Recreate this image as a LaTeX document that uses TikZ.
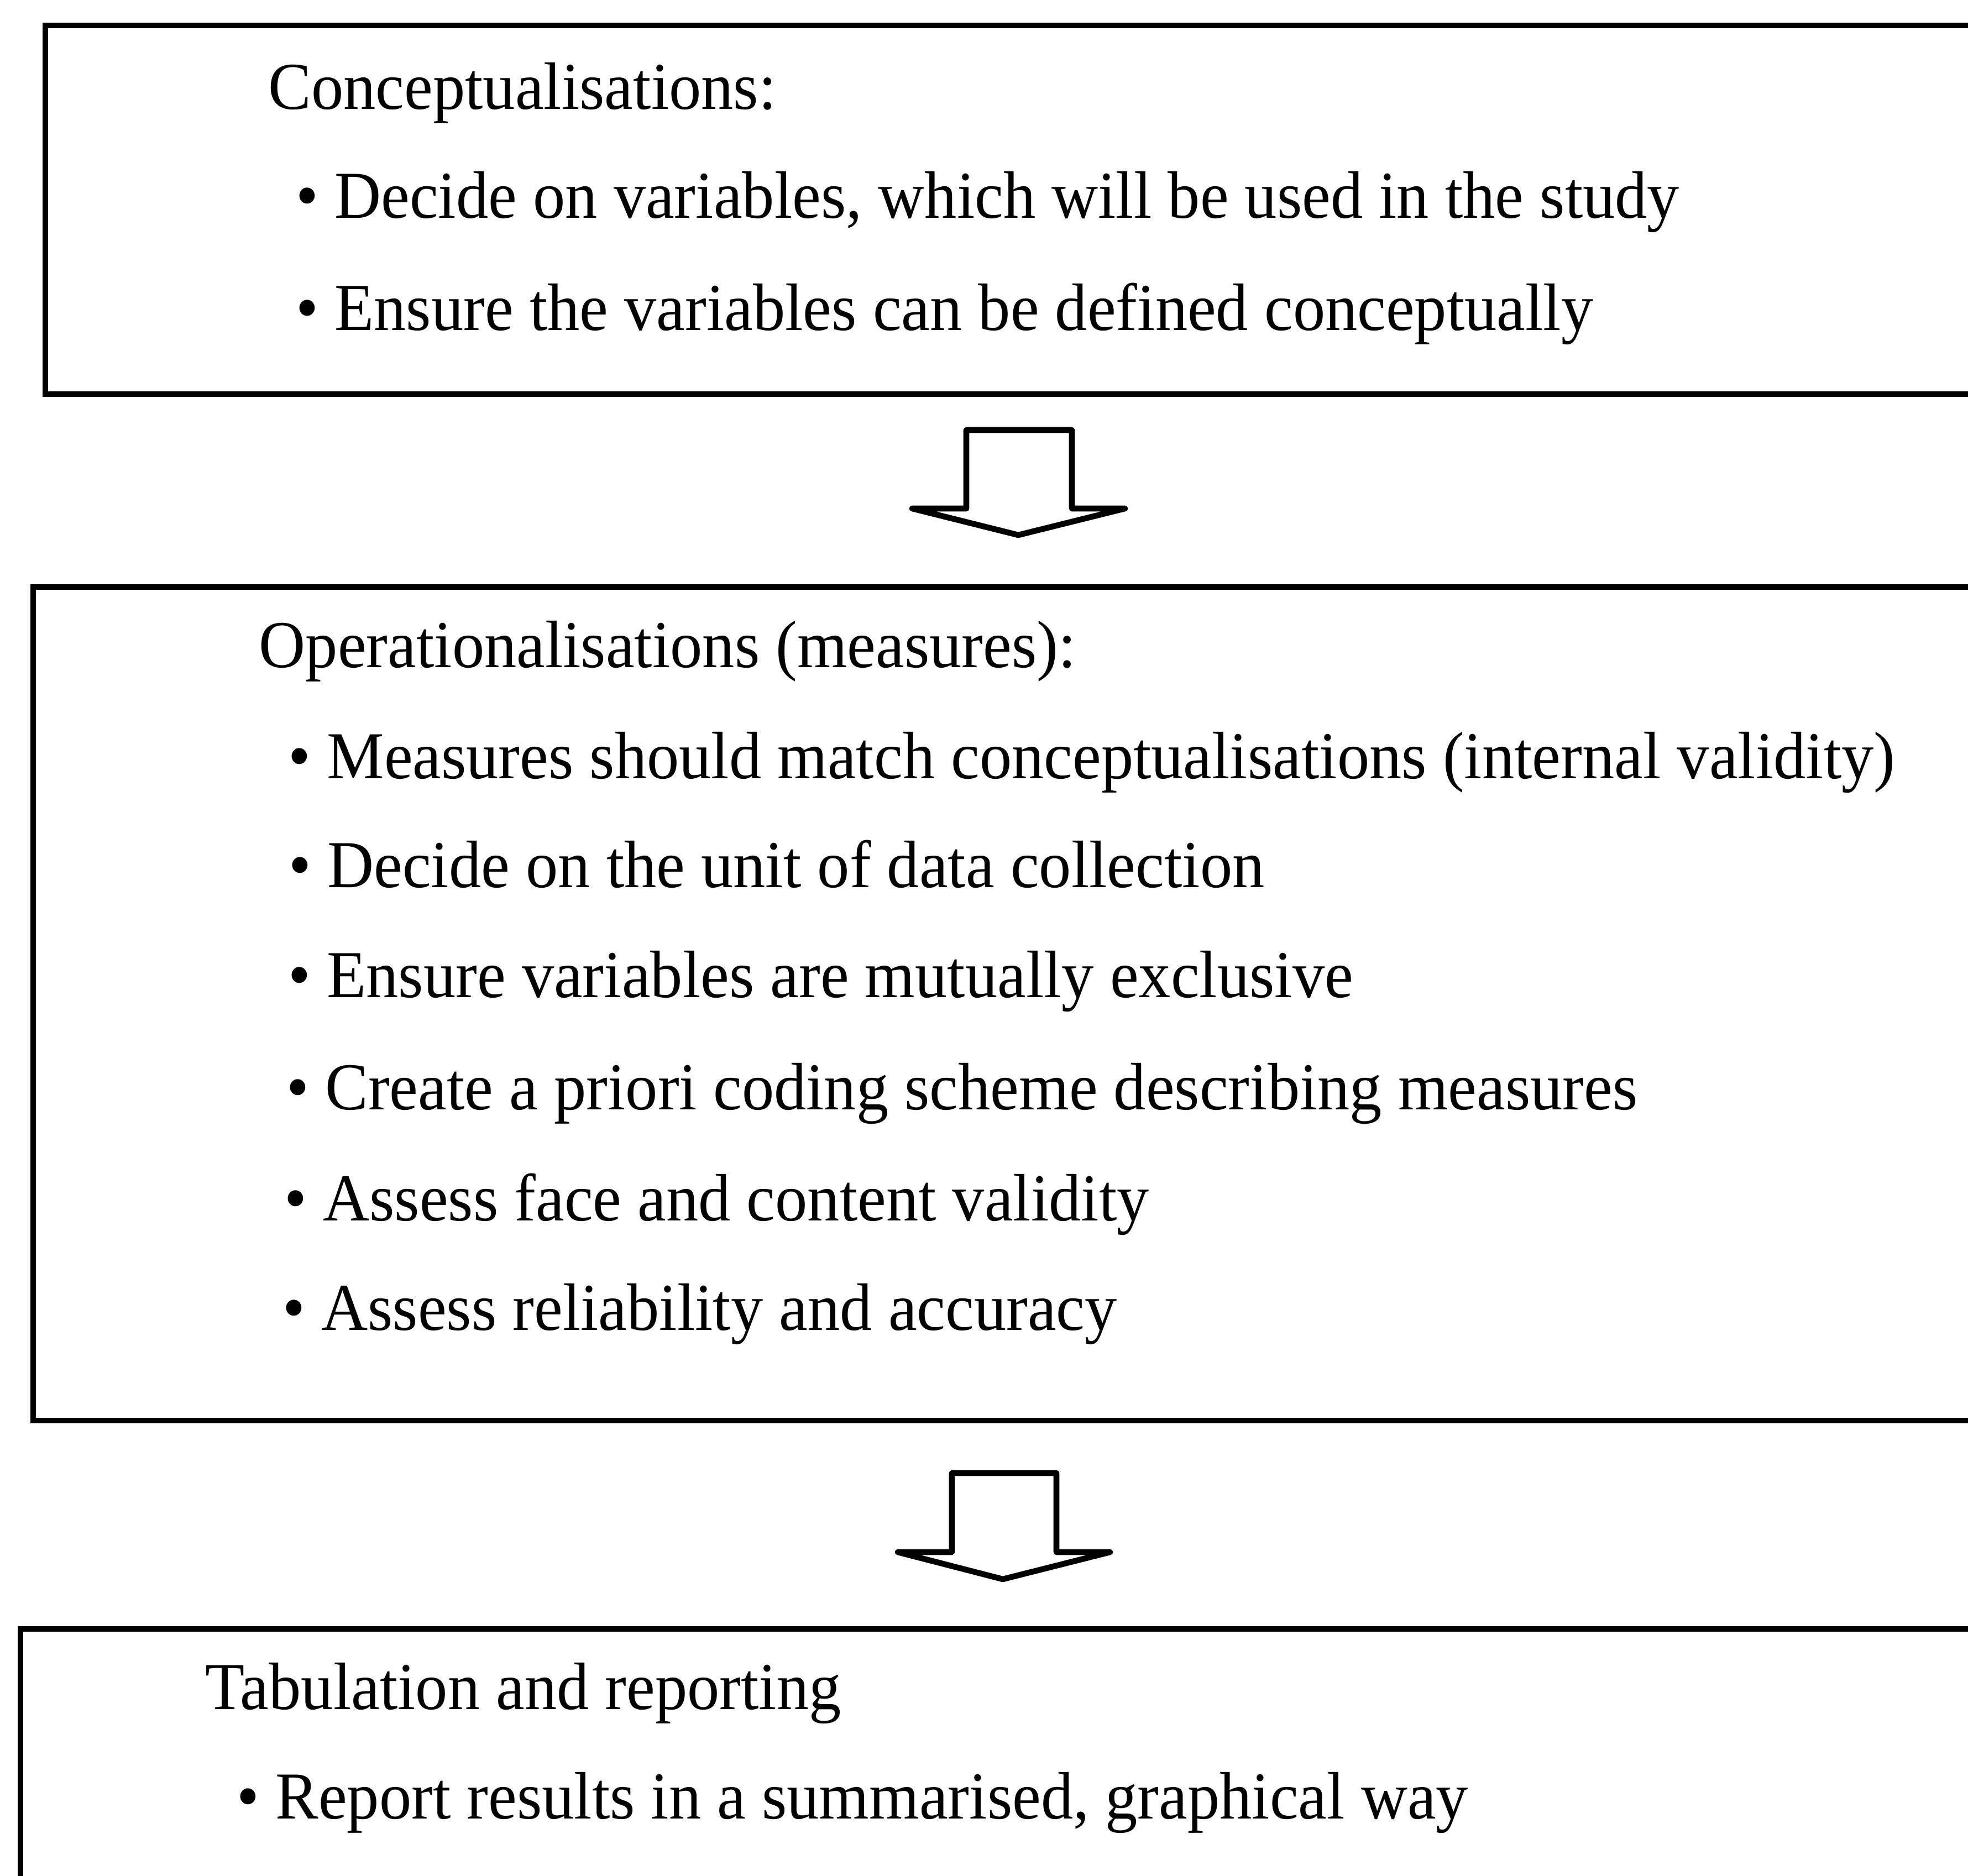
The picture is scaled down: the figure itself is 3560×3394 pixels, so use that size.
\documentclass[tikz,border=0pt]{standalone}
\usepackage{fontspec}
\setmainfont[FakeStretch=0.96]{Liberation Serif}
\tikzset{
  boxline/.style={line width=2.8pt},
  blockarrow/.style={line width=3pt, line join=round},
  txt/.style={anchor=base west, inner sep=0pt, font=\fontsize{34.5}{41}\selectfont},
}
\begin{document}
\begin{tikzpicture}[x=0.01cm,y=-0.01cm]
\useasboundingbox (0,0) rectangle (3560,3394);
\clip (0,0) rectangle (3560,3394);
% boxes, open to the right
\draw[boxline] (3700,46) -- (82,46) -- (82,713) -- (3700,713);
\draw[boxline] (3700,1062) -- (60,1062) -- (60,2570) -- (3700,2570);
\draw[boxline] (3700,2947) -- (37,2947) -- (37,3500);
% block arrows
\draw[blockarrow] (1748,920) -- (1748,778) -- (1939,778) -- (1939,920) -- (2035,920) -- (1842,968) -- (1650,920) -- cycle;
\draw[blockarrow] (1722,2808) -- (1722,2665) -- (1911,2665) -- (1911,2808) -- (2008,2808) -- (1814,2857) -- (1624,2808) -- cycle;
% first box
\node[txt] (concept) at (485,198) {Conceptualisations:};
\node[txt] (concept1) at (535,395) {• Decide on variables, which will be used in the study};
\node[txt] (concept2) at (535,597) {• Ensure the variables can be defined conceptually};
% second box
\node[txt] (oper) at (468,1207) {Operationalisations (measures):};
\node[txt] (oper1) at (521,1408) {• Measures should match conceptualisations (internal validity)};
\node[txt] (oper2) at (522,1605) {• Decide on the unit of data collection};
\node[txt] (oper3) at (521,1804) {• Ensure variables are mutually exclusive};
\node[txt] (oper4) at (518,2007) {• Create a priori coding scheme describing measures};
\node[txt] (oper5) at (514,2208) {• Assess face and content validity};
\node[txt] (oper6) at (511,2406) {• Assess reliability and accuracy};
% third box
\node[txt] (tab) at (371,3092) {Tabulation and reporting};
\node[txt] (tab1) at (428,3290) {• Report results in a summarised, graphical way};
\end{tikzpicture}
\end{document}
